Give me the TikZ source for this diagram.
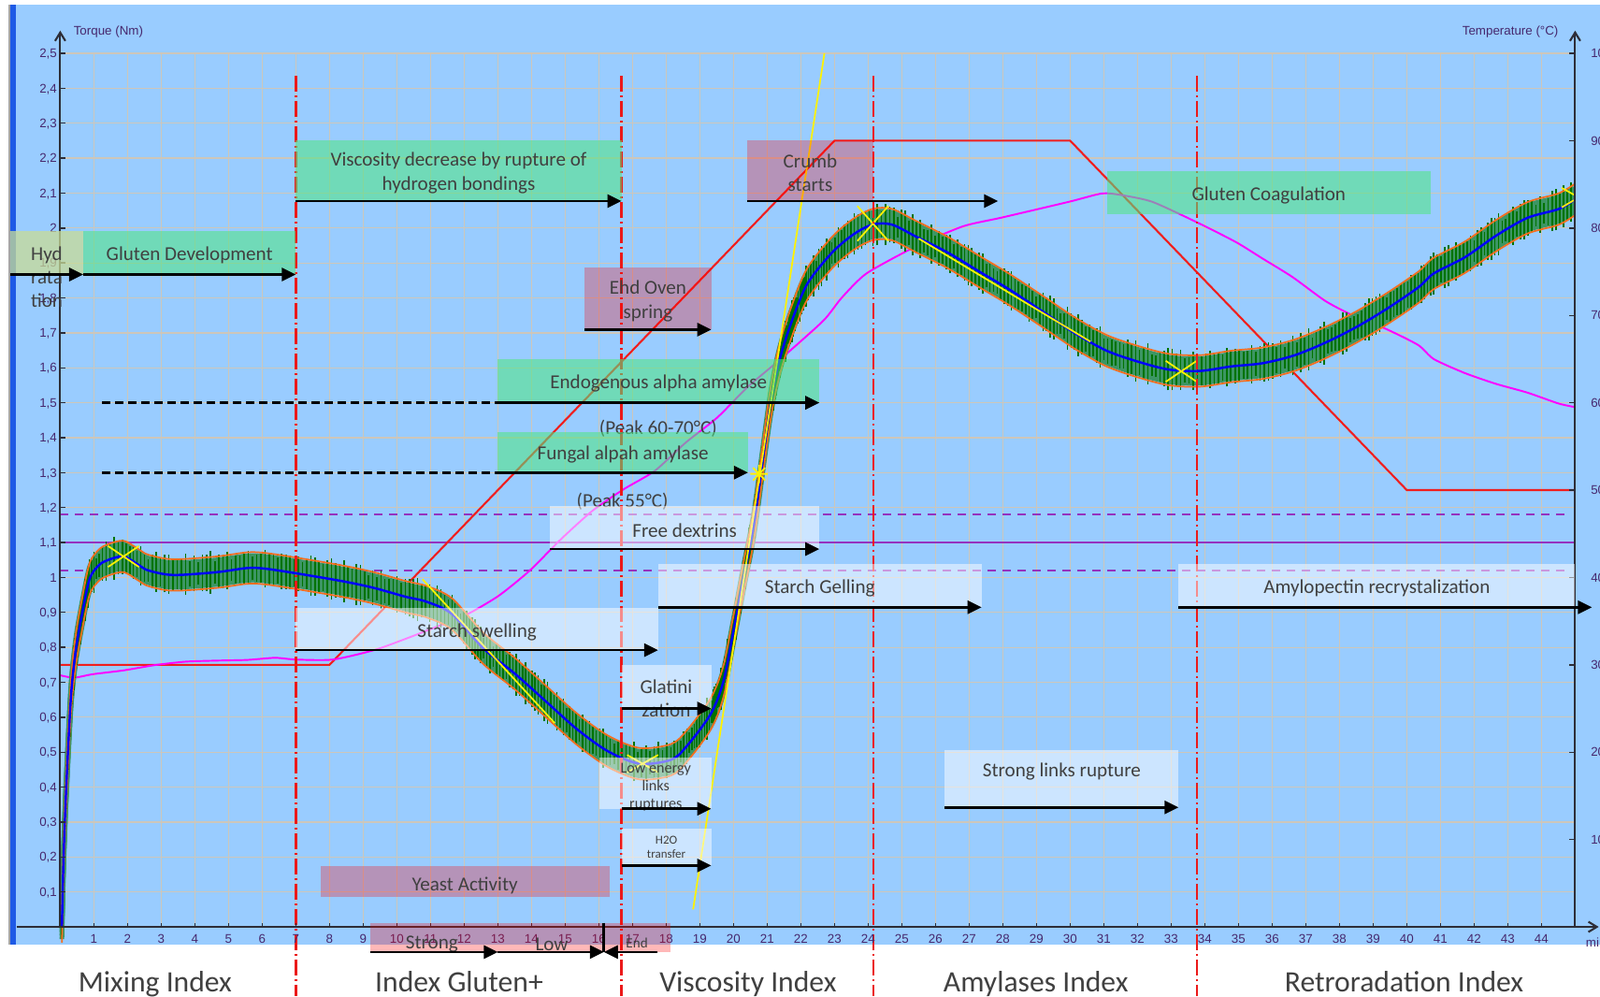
\documentclass[tikz,border=0pt]{standalone}
\usepackage{fontspec}
\setmainfont{Carlito}
\newfontfamily\axisfont{Liberation Sans}
\usetikzlibrary{arrows.meta,fit,decorations.markings}
\definecolor{plotbg}{HTML}{99CCFF}
\definecolor{barblue}{RGB}{30,90,230}
\definecolor{gridtan}{RGB}{205,198,186}
\definecolor{sepred}{RGB}{235,25,25}
\definecolor{setred}{RGB}{240,30,30}
\definecolor{tempmag}{RGB}{255,0,255}
\definecolor{limitpurple}{RGB}{150,50,190}
\definecolor{bandorange}{RGB}{245,110,30}
\definecolor{bandgreen}{RGB}{0,115,0}
\definecolor{bandmix}{RGB}{60,150,100}
\definecolor{meanblue}{RGB}{0,0,255}
\definecolor{phasegreenc}{RGB}{80,230,130}
\definecolor{hydc}{RGB}{200,220,150}
\definecolor{labelgray}{RGB}{64,64,64}
\definecolor{axisgray}{RGB}{45,45,55}
\definecolor{tickpurple}{RGB}{70,40,110}
\newcommand\phasefont{\fontsize{6}{7.2}\selectfont}
\newcommand\smallphasefont{\fontsize{4.6}{5.3}\selectfont}
\newcommand\tinyphasefont{\fontsize{3.7}{4.3}\selectfont}
\newcommand\indexfont{\fontsize{9}{10}\selectfont}
\newcommand\tickfont{\axisfont\fontsize{3.8}{4.5}\selectfont}
\tikzset{
    gridline/.style={draw=gridtan, line width=0.35pt},
    indexsep/.style={draw=sepred, line width=0.75pt,
        dash pattern=on 0.17cm off 0.04cm on 0.02cm off 0.04cm},
    setpoint/.style={draw=setred, line width=0.6pt},
    tempcurve/.style={draw=tempmag, line width=0.55pt},
    limitline/.style={draw=limitpurple, line width=0.6pt},
    limitdash/.style={draw=limitpurple, line width=0.45pt, dash pattern=on 0.09cm off 0.07cm},
    bandfill/.style={draw=bandmix, line width=0.05cm, line join=round},
    bandedge/.style={draw=bandorange, line width=0.5pt, line join=round},
    bandspikes/.style={postaction={decorate}, decoration={markings,
        mark=between positions 0 and 1 step 0.045cm with {
            \pgftransformresetnontranslations
            \pgfmathsetmacro\spike{0.11+0.12*rnd}
            \draw[bandgreen, line width=0.45pt] (0,-\spike cm) -- (0,\spike cm);}}},
    bandmean/.style={draw=meanblue, line width=0.7pt},
    tangentline/.style={draw=yellow, line width=0.5pt},
    axisline/.style={draw=axisgray, line width=0.6pt},
    phase/.style={inner sep=0pt, outer sep=0pt},
    greenphase/.style={phase, fill=phasegreenc, fill opacity=0.56},
    mauvephase/.style={phase, fill=red, fill opacity=0.28},
    lightphase/.style={phase, fill=white, fill opacity=0.5},
    hydphase/.style={phase, fill=hydc, fill opacity=0.75},
    phasearrow/.style={draw=black, line width=0.8pt, -{Triangle[length=0.15cm, width=0.14cm]}},
    amylasedash/.style={draw=black, line width=0.8pt, dash pattern=on 0.09cm off 0.05cm},
    phasetext/.style={text=labelgray, font=\phasefont, align=center, inner sep=0pt},
    boxtext/.style={phasetext, yshift=-0.8pt},
    indexlabel/.style={text=labelgray, font=\indexfont, inner sep=0pt, anchor=base},
    ticklabel/.style={text=tickpurple, font=\tickfont, inner sep=0pt}
}
% torque trace (minutes, Nm)
\newcommand\torquedata{
    (0.05,0) (0.1,0.2) (0.18,0.4) (0.32,0.66) (0.46,0.79) (0.62,0.88) (0.87,0.995)
    (1.15,1.035) (1.42,1.05) (1.88,1.06) (2.34,1.035) (2.62,1.02) (3.35,1.007)
    (4.64,1.015) (5.56,1.027) (6.1,1.025) (7,1.012) (8.4,0.989) (9.32,0.97)
    (10.25,0.945) (10.9,0.93) (11.64,0.895) (12.57,0.797) (13.5,0.725) (14.43,0.645)
    (15.36,0.565) (16.28,0.502) (17.21,0.467) (18.14,0.478) (18.6,0.516) (19.32,0.609)
    (19.69,0.699) (19.97,0.832) (20.3,1.0) (20.62,1.162) (21.08,1.484) (21.36,1.62)
    (21.73,1.733) (22.19,1.84) (22.93,1.93) (23.58,1.983) (24.14,2.01) (24.7,2.01)
    (25.43,1.975) (26.36,1.93) (27.29,1.876) (28.21,1.823) (29.2,1.76) (30.16,1.698)
    (31.08,1.649) (32,1.618) (32.93,1.595) (33.86,1.591) (34.79,1.604) (35.71,1.613)
    (36.64,1.635) (37.56,1.671) (38.49,1.716) (39.41,1.769) (40.34,1.83) (40.8,1.87)
    (41.72,1.916) (42.65,1.978) (43.58,2.029) (44.5,2.054) (44.97,2.08)}
\newcommand\torquepath{plot[smooth, tension=0.5] coordinates {\torquedata}}
\newcommand\torquepoly{plot[sharp plot] coordinates {\torquedata}}

\begin{document}
\begin{tikzpicture}[x=0.36cm, y=3.736cm]
\useasboundingbox (-1.789,-0.1981) rectangle (45.739,2.6526);
\fill[white] (-1.789,-0.1981) rectangle (45.739,2.6526);
\fill[plotbg] (-1.539,-0.0509) rectangle (45.739,2.639);
\fill[gray!70] (-1.539,-0.0509) rectangle (-1.483,2.639);
\fill[barblue] (-1.483,-0.0509) rectangle (-1.32,2.639);

% grid
\foreach \m in {1,...,44}
    \draw[gridline] (\m,0) -- (\m,2.5);
\foreach \k in {1,...,25}
    \draw[gridline] (0,\k/10) -- (45,\k/10);

% tolerance lines
\draw[limitline] (0,1.1) -- (45,1.1);
\draw[limitdash] (0,1.18) -- (44.8,1.18);
\draw[limitdash] (0,1.02) -- (44.8,1.02);

% temperature: set point and measured
\draw[setpoint] (0,0.75) -- (8,0.75) -- (23,2.25) -- (30,2.25) -- (40,1.25) -- (45,1.25);
\draw[tempcurve] plot[smooth, tension=0.4] coordinates {
    (0,0.72) (0.41,0.713) (0.96,0.723) (1.88,0.734) (2.8,0.749) (3.72,0.759) (4.64,0.762)
    (5.56,0.764) (6.38,0.77) (7,0.765) (8.1,0.765) (9.32,0.792) (10.25,0.824) (11.18,0.859)
    (12.1,0.895) (13.03,0.948) (13.95,1.02) (14.88,1.11) (15.8,1.19) (16.73,1.252)
    (17.66,1.305) (18.58,1.386) (19.51,1.457) (20.43,1.546) (21.36,1.622) (22.66,1.734)
    (23.21,1.8) (23.95,1.87) (25.43,1.948) (26.82,2.005) (27.97,2.03) (29.96,2.075)
    (30.95,2.099) (31.54,2.094) (32.44,2.075) (33.73,2.018) (34.92,1.96) (35.71,1.913)
    (36.6,1.86) (37.6,1.79) (38.5,1.745) (39.41,1.71) (40.34,1.665) (40.8,1.625)
    (41.72,1.585) (42.65,1.554) (43.58,1.529) (44.5,1.498) (44.97,1.488)};

% torque band
\foreach \s in {-0.035,-0.025,...,0.036}
    \draw[bandfill, yshift=\s*3.736cm] \torquepath;
\path[bandspikes] \torquepoly;
\draw[bandedge, yshift=0.045*3.736cm] \torquepath;
\draw[bandedge, yshift=-0.045*3.736cm] \torquepath;
\draw[bandmean] \torquepath;

% tangents and marks
\draw[tangentline] (18.8,0.05) -- (22.7,2.5);
\draw[tangentline] (10.76,0.995) -- (14.69,0.583);
\draw[tangentline] (25.5,1.97) -- (30.6,1.675);
\foreach \cx/\cy/\dy in {1.88/1.06/0.03, 17.3/0.467/0.025, 24.14/2.013/0.05, 33.3/1.59/0.03}
    \draw[tangentline] (\cx-0.46,\cy-\dy) -- (\cx+0.46,\cy+\dy)
        (\cx-0.46,\cy+\dy) -- (\cx+0.46,\cy-\dy);
\draw[tangentline] (44.6,2.115) -- (44.97,2.095) (44.6,2.059) -- (44.97,2.08);
\draw[tangentline] (20.5,1.296) -- (21.02,1.296) (20.76,1.27) -- (20.76,1.322)
    (20.58,1.278) -- (20.94,1.314) (20.58,1.314) -- (20.94,1.278);

% index separators
\foreach \m in {7,16.67,24.16,33.77}
    \draw[indexsep] (\m,2.436) -- (\m,-0.1981);

% axes
\draw[axisline, -{Straight Barb[length=0.09cm, width=0.11cm]}] (0,0) -- (0,2.565);
\draw[axisline, -{Straight Barb[length=0.09cm, width=0.11cm]}] (45,0) -- (45,2.565);
\draw[axisline, -{Straight Barb[length=0.09cm, width=0.11cm]}] (-1.3,0) -- (45.7,0);
\foreach \m in {1,...,44} {
    \draw[axisline, line width=0.4pt] (\m,0) -- (\m,0.012);
    \node[ticklabel] (bt\m) at (\m,-0.035) {\m};
}
\foreach \k in {1,...,25} {
    \pgfmathtruncatemacro\ip{\k/10}
    \pgfmathtruncatemacro\dp{\k-10*\ip}
    \draw[axisline, line width=0.4pt] (0,\k/10) -- (0.15,\k/10);
    \node[ticklabel, anchor=east] (lt\k) at (-0.08,\k/10) {\ip\ifnum\dp>0 ,\dp\fi};
}
\foreach \t in {10,20,...,100} {
    \draw[axisline, line width=0.4pt] (45,\t/40) -- (44.82,\t/40);
    \node[ticklabel, anchor=west] (rt\t) at (45.45,\t/40) {\t};
}
\node[ticklabel, anchor=west] (torquetitle) at (0.38,2.561) {Torque (Nm)};
\node[ticklabel, anchor=east] (temptitle) at (44.52,2.562) {Temperature (°C)};
\node[ticklabel, anchor=west] (mintitle) at (45.3,-0.045) {min};

% phases
\node[hydphase, fit={(-1.483,1.867) (0.683,1.9925)}] (hyd) {};
\node[phasetext] (hydtext) at (-0.4,1.86) {Hyd\\rata\\tion};
\draw[phasearrow] (hyd.south west) -- (hyd.south east);

\node[greenphase, fit={(0.683,1.867) (7,1.9925)}] (glutdev) {};
\node[boxtext] (glutdevtext) at (glutdev.center) {Gluten Development};
\draw[phasearrow] (glutdev.south west) -- (glutdev.south east);

\node[greenphase, fit={(7,2.0772) (16.67,2.2524)}] (visc) {};
\node[boxtext] (visctext) at (visc.center) {Viscosity decrease by rupture of\\hydrogen bondings};
\draw[phasearrow] (visc.south west) -- (visc.south east);

\node[mauvephase, fit={(20.4,2.0772) (24.16,2.2524)}] (crumb) {};
\node[boxtext] (crumbtext) at (crumb.center) {Crumb\\starts};
\coordinate (crumbend) at (27.86,2.0772);
\draw[phasearrow] (crumb.south west) -- (crumbend);

\node[greenphase, fit={(31.1,2.0392) (40.7,2.1619)}] (coag) {};
\node[boxtext] (coagtext) at (coag.center) {Gluten Coagulation};

\node[mauvephase, fit={(15.58,1.7092) (19.34,1.8873)}] (oven) {};
\node[boxtext] (oventext) at (oven.center) {Ehd Oven\\spring};
\draw[phasearrow] (oven.south west) -- (oven.south east);

\coordinate (endostart) at (1.24,1.5);
\node[greenphase, fit={(13,1.5) (22.55,1.6245)}] (endo) {};
\node[boxtext] (endotext) at (endo.center) {Endogenous alpha amylase};
\draw[amylasedash] (endostart) -- (endo.south west);
\draw[phasearrow] (endo.south west) -- (endo.south east);
\node[phasetext] (endopeak) at (17.76,1.426) {(Peak 60-70°C)};

\coordinate (fungstart) at (1.24,1.3);
\node[greenphase, fit={(13,1.3) (20.43,1.417)}] (fung) {};
\node[boxtext] (fungtext) at (fung.center) {Fungal alpah amylase};
\draw[amylasedash] (fungstart) -- (fung.south west);
\draw[phasearrow] (fung.south west) -- (fung.south east);
\node[phasetext] (fungpeak) at (16.7,1.218) {(Peak 55°C)};

\node[lightphase, fit={(14.55,1.0812) (22.55,1.2039)}] (dextrin) {};
\node[boxtext] (dextrintext) at (dextrin.center) {Free dextrins};
\draw[phasearrow] (dextrin.south west) -- (dextrin.south east);

\node[lightphase, fit={(17.76,0.9147) (27.37,1.0374)}] (gelling) {};
\node[boxtext] (gellingtext) at (gelling.center) {Starch Gelling};
\draw[phasearrow] (gelling.south west) -- (gelling.south east);

\node[lightphase, fit={(33.22,0.9147) (45,1.0374)}] (retro) {};
\node[boxtext] (retrotext) at (retro.center) {Amylopectin recrystalization};
\coordinate (retroend) at (45.5,0.9147);
\draw[phasearrow] (retro.south west) -- (retroend);

\node[lightphase, fit={(7,0.7921) (17.76,0.9118)}] (swell) {};
\node[boxtext] (swelltext) at (swell.center) {Starch swelling};
\draw[phasearrow] (swell.south west) -- (swell.south east);

\node[lightphase, fit={(16.67,0.625) (19.34,0.749)}] (glat) {};
\node[phasetext] (glattext) at (18,0.653) {Glatini\\zation};
\draw[phasearrow] (glat.south west) -- (glat.south east);

\node[lightphase, fit={(16.03,0.338) (19.34,0.4854)}] (lowlink) {};
\node[phasetext, font=\smallphasefont] (lowlinktext) at (17.69,0.40) {Low energy\\links\\ruptures};
\coordinate (lowstart) at (16.67,0.338);
\draw[phasearrow] (lowstart) -- (lowlink.south east);

\node[lightphase, fit={(26.28,0.342) (33.22,0.5058)}] (strong) {};
\node[phasetext] (strongtext) at (29.75,0.4445) {Strong links rupture};
\draw[phasearrow] (strong.south west) -- (strong.south east);

\node[lightphase, fit={(16.67,0.1757) (19.34,0.2808)}] (water) {};
\node[phasetext, font=\tinyphasefont] (watertext) at (water.center) {H2O\\transfer};
\draw[phasearrow] (water.south west) -- (water.south east);

\node[mauvephase, fit={(7.73,0.0852) (16.31,0.1728)}] (yeast) {};
\node[phasetext] (yeasttext) at (12.02,0.1174) {Yeast Activity};

% gluten strength strip
\node[mauvephase, fit={(9.21,-0.072) (18.12,0.01)}] (glue) {};
\coordinate (gluemid) at (13,-0.072);
\coordinate (gluelow) at (16.15,-0.072);
\coordinate (gluetop) at (16.15,0.0115);
\coordinate (glueend) at (17.74,-0.072);
\node[phasetext] (gluestrong) at (11.04,-0.05) {Strong};
\node[phasetext] (gluelowtext) at (14.6,-0.05) {Low};
\node[phasetext, font=\fontsize{4.3}{5}\selectfont] (glueendtext) at (17.13,-0.045) {End};
\draw[phasearrow] (glue.south west) -- (gluemid);
\draw[phasearrow] (gluemid) -- (gluelow);
\draw[phasearrow] (glueend) -- (gluelow);
\draw[black, line width=0.8pt] (gluetop) -- (gluelow);

% index names
\node[indexlabel] (mixidx) at (2.82,-0.186) {Mixing Index};
\node[indexlabel] (glutidx) at (11.85,-0.186) {Index Gluten+};
\node[indexlabel] (viscidx) at (20.43,-0.186) {Viscosity Index};
\node[indexlabel] (amylidx) at (28.98,-0.186) {Amylases Index};
\node[indexlabel] (retroidx) at (39.92,-0.186) {Retroradation Index};
\end{tikzpicture}
\end{document}
